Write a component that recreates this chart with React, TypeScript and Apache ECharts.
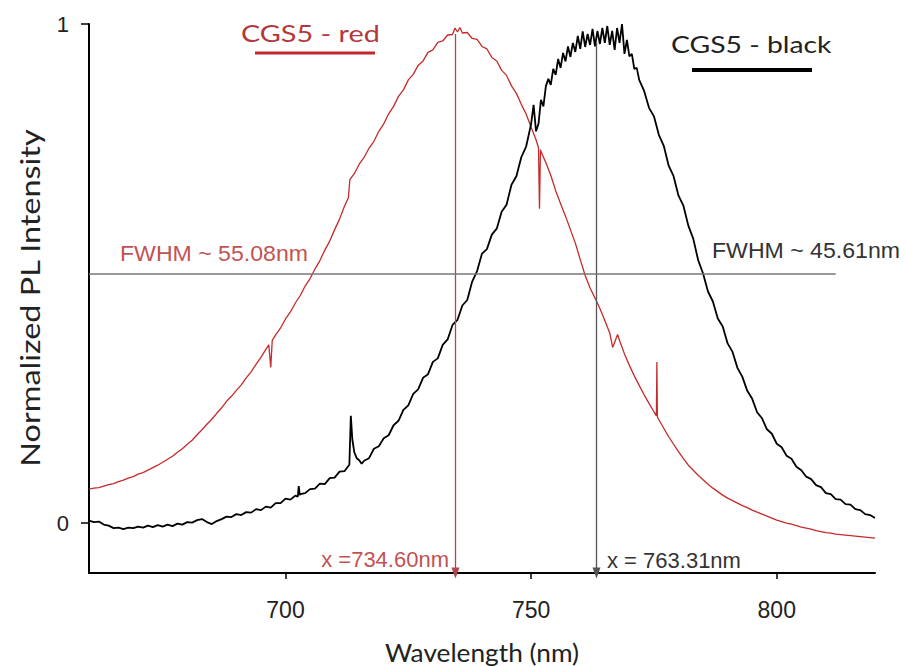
import React, { useEffect, useRef } from "react";
import * as echarts from "echarts";

// ---- data ----
const xTicks = [700, 750, 800];
const yTicks = [0, 1];
const redPeak = 734.6;
const blackPeak = 763.31;
const halfMax = 0.5;
const halfLineEnd = 812;

const redSpectrum: [number, number][] = [
  [660, 0.068], [661, 0.07], [662, 0.071], [663, 0.074], [664, 0.077], [665, 0.079], [666, 0.083], [667, 0.086],
  [668, 0.09], [669, 0.093], [670, 0.098], [671, 0.101], [672, 0.106], [673, 0.111], [674, 0.116], [675, 0.122],
  [676, 0.128], [677, 0.134], [678, 0.142], [679, 0.149], [680, 0.158], [681, 0.166], [682, 0.177], [683, 0.187],
  [684, 0.198], [685, 0.208], [686, 0.22], [687, 0.231], [688, 0.244], [689, 0.254], [690, 0.266], [691, 0.277],
  [692, 0.291], [693, 0.303], [694, 0.318], [695, 0.332], [696, 0.348], [696.6, 0.357], [697, 0.312], [697.3, 0.366],
  [698, 0.377], [699, 0.391], [700, 0.409], [701, 0.423], [702, 0.441], [703, 0.456], [704, 0.475], [705, 0.49],
  [706, 0.509], [707, 0.526], [708, 0.547], [709, 0.565], [710, 0.588], [711, 0.609], [712, 0.635], [712.8, 0.652],
  [713.1, 0.688], [714, 0.7], [715, 0.719], [716, 0.733], [717, 0.751], [718, 0.765], [719, 0.785], [720, 0.8],
  [721, 0.82], [722, 0.835], [723, 0.855], [724, 0.868], [725, 0.888], [726, 0.899], [727, 0.917], [728, 0.926],
  [729, 0.943], [730, 0.948], [731, 0.963], [732, 0.966], [733, 0.978], [734, 0.979], [734.5, 0.992], [735, 0.984],
  [735.5, 0.993], [736, 0.982], [737, 0.983], [738, 0.971], [739, 0.969], [740, 0.955], [741, 0.95], [742, 0.933],
  [743, 0.926], [744, 0.907], [745, 0.897], [746, 0.876], [747, 0.861], [748, 0.839], [749, 0.819], [750, 0.793],
  [751, 0.768], [751.5, 0.752], [751.7, 0.63], [751.9, 0.748], [752, 0.745], [753, 0.722], [754, 0.697], [755, 0.666],
  [756, 0.64], [757, 0.615], [758, 0.588], [759, 0.561], [760, 0.528], [761, 0.496], [762, 0.471], [763, 0.451],
  [764, 0.43], [765, 0.406], [766, 0.381], [766.6, 0.352], [767.6, 0.378], [768, 0.366], [769, 0.339], [770, 0.316],
  [771, 0.295], [772, 0.276], [773, 0.257], [774, 0.24], [775, 0.223], [775.5, 0.215], [775.6, 0.323], [775.7, 0.213],
  [776, 0.207], [777, 0.19], [778, 0.173], [779, 0.158], [780, 0.143], [781, 0.129], [782, 0.116], [783, 0.106],
  [784, 0.096], [785, 0.087], [786, 0.078], [787, 0.07], [788, 0.063], [789, 0.056], [790, 0.05], [791, 0.045],
  [792, 0.04], [793, 0.035], [794, 0.031], [795, 0.026], [796, 0.022], [797, 0.018], [798, 0.014], [799, 0.01],
  [800, 0.006], [801, 0.003], [802, 0.0], [803, -0.002], [804, -0.005], [805, -0.008], [806, -0.01], [807, -0.012],
  [808, -0.015], [809, -0.017], [810, -0.019], [811, -0.02], [812, -0.022], [813, -0.023], [814, -0.024], [815, -0.025],
  [816, -0.026], [817, -0.027], [818, -0.028], [819, -0.029], [820, -0.03],
];

const blackSpectrum: [number, number][] = [
  [660, 0.005], [661, 0.002], [662, 0.003], [663, -0.003], [664, -0.005], [665, -0.01], [666, -0.009], [667, -0.012],
  [668, -0.009], [669, -0.01], [670, -0.007], [671, -0.009], [672, -0.005], [673, -0.008], [674, -0.004], [675, -0.007],
  [676, -0.003], [677, -0.006], [678, -0.001], [679, -0.003], [680, 0.002], [681, 0.001], [682, 0.006], [683, 0.008],
  [684, 0.002], [685, -0.002], [686, 0.004], [687, 0.008], [688, 0.013], [689, 0.012], [690, 0.018], [691, 0.016],
  [692, 0.022], [693, 0.021], [694, 0.028], [695, 0.026], [696, 0.033], [697, 0.031], [698, 0.04], [699, 0.04],
  [700, 0.049], [701, 0.047], [702, 0.055], [702.5, 0.053], [702.7, 0.074], [702.9, 0.056], [703, 0.058], [704, 0.06],
  [705, 0.068], [706, 0.069], [707, 0.079], [708, 0.078], [709, 0.09], [710, 0.091], [711, 0.103], [712, 0.104],
  [713, 0.117], [713.3, 0.215], [713.6, 0.168], [714, 0.142], [714.5, 0.13], [715, 0.126], [715.5, 0.119], [716, 0.125],
  [717, 0.13], [718, 0.149], [719, 0.154], [720, 0.17], [721, 0.176], [722, 0.196], [723, 0.205], [724, 0.227],
  [725, 0.236], [726, 0.259], [727, 0.268], [728, 0.291], [729, 0.298], [730, 0.323], [731, 0.33], [732, 0.357],
  [733, 0.368], [734, 0.397], [735, 0.407], [736, 0.436], [737, 0.447], [738, 0.484], [739, 0.505], [740, 0.54],
  [741, 0.549], [742, 0.578], [743, 0.59], [744, 0.624], [745, 0.638], [746, 0.678], [747, 0.695], [748, 0.733],
  [749, 0.755], [750, 0.8], [750.5, 0.838], [751, 0.785], [751.5, 0.8], [752, 0.848], [752.5, 0.835], [753, 0.875],
  [753.5, 0.89], [754, 0.878], [754.5, 0.91], [755, 0.898], [755.5, 0.93], [756, 0.912], [756.5, 0.942], [757, 0.925],
  [757.5, 0.955], [758, 0.934], [758.5, 0.962], [759, 0.944], [759.5, 0.976], [760, 0.95], [760.5, 0.985], [761, 0.954],
  [761.5, 0.98], [762, 0.958], [762.5, 0.99], [763, 0.955], [763.5, 0.986], [764, 0.96], [764.5, 0.992], [765, 0.962],
  [765.5, 0.996], [766, 0.958], [766.5, 0.986], [767, 0.948], [767.5, 0.992], [768, 0.962], [768.5, 1.0], [769, 0.94],
  [769.5, 0.968], [770, 0.935], [770.5, 0.94], [771, 0.91], [771.5, 0.912], [772, 0.888], [773, 0.866], [774, 0.832],
  [775, 0.815], [776, 0.778], [777, 0.756], [778, 0.716], [779, 0.695], [780, 0.656], [781, 0.636], [782, 0.596],
  [783, 0.57], [784, 0.527], [785, 0.5], [786, 0.464], [787, 0.444], [788, 0.41], [789, 0.394], [790, 0.36],
  [791, 0.343], [792, 0.311], [793, 0.293], [794, 0.265], [795, 0.249], [796, 0.222], [797, 0.21], [798, 0.188],
  [799, 0.179], [800, 0.159], [801, 0.152], [802, 0.135], [803, 0.129], [804, 0.113], [805, 0.106], [806, 0.093],
  [807, 0.088], [808, 0.076], [809, 0.072], [810, 0.06], [811, 0.058], [812, 0.048], [813, 0.047], [814, 0.038],
  [815, 0.037], [816, 0.028], [817, 0.026], [818, 0.018], [819, 0.016], [820, 0.01],
];

const SANS = "Liberation Sans, Arial, sans-serif";
const HUMAN = "Lato, 'Open Sans', sans-serif";

export default function App() {
  const ref = useRef<HTMLDivElement>(null);

  useEffect(() => {
    if (!ref.current) return;
    const chart = echarts.init(ref.current, undefined, { renderer: "svg" });

    const text = (
      t: string,
      x: number,
      y: number,
      fill: string,
      fontSize: number,
      fontFamily: string,
      align: string,
      scaleX = 1,
      rotation = 0
    ) => ({
      type: "text",
      x,
      y,
      scaleX,
      rotation,
      silent: true,
      style: {
        text: t,
        fill,
        fontSize,
        fontFamily,
        align,
        textAlign: align,
        verticalAlign: "middle",
        textVerticalAlign: "middle",
      },
    });

    chart.setOption({
      animation: false,
      backgroundColor: "#ffffff",
      grid: { left: 89, right: 32, top: 24, bottom: 93, containLabel: false },
      xAxis: {
        type: "value",
        min: 660,
        max: 820,
        axisLine: { show: true, onZero: false, lineStyle: { color: "#000", width: 2 } },
        axisTick: { show: true, customValues: xTicks, length: 6, lineStyle: { color: "#000", width: 1.5 } },
        axisLabel: { customValues: xTicks, fontSize: 23, color: "#222", margin: 25, fontFamily: SANS },
        splitLine: { show: false },
      },
      yAxis: {
        type: "value",
        min: -0.1,
        max: 1,
        axisLine: { show: true, onZero: false, lineStyle: { color: "#000", width: 2 } },
        axisTick: { show: true, customValues: yTicks, length: 8, lineStyle: { color: "#000", width: 1.5 } },
        axisLabel: { customValues: yTicks, fontSize: 22, color: "#222", margin: 20, fontFamily: SANS },
        splitLine: { show: false },
      },
      series: [
        {
          name: "CGS5 - red",
          type: "line",
          data: redSpectrum,
          showSymbol: false,
          symbol: "none",
          lineStyle: { color: "#c62a2a", width: 1.3 },
          silent: true,
          z: 3,
          markLine: {
            silent: true,
            symbol: ["none", "triangle"],
            symbolSize: [8, 11],
            label: { show: false },
            lineStyle: { color: "#b0474a", width: 1.3, type: "solid" },
            data: [[{ coord: [redPeak, 0.98] }, { coord: [redPeak, -0.1] }]],
          },
        },
        {
          name: "CGS5 - black",
          type: "line",
          data: blackSpectrum,
          showSymbol: false,
          symbol: "none",
          lineStyle: { color: "#000", width: 1.8 },
          silent: true,
          z: 4,
          markLine: {
            silent: true,
            symbol: ["none", "triangle"],
            symbolSize: [8, 11],
            label: { show: false },
            lineStyle: { color: "#555", width: 1.3, type: "solid" },
            data: [
              [{ coord: [blackPeak, 0.965] }, { coord: [blackPeak, -0.1] }],
              [
                { coord: [660, halfMax], symbol: "none" },
                { coord: [halfLineEnd, halfMax], symbol: "none", lineStyle: { color: "#777", width: 1.5 } },
              ],
            ],
          },
        },
      ],
      graphic: [
        text("CGS5 - red", 241, 33, "#b3383c", 24, HUMAN, "left", 1.2),
        {
          type: "line",
          silent: true,
          shape: { x1: 255, y1: 53, x2: 375, y2: 53 },
          style: { stroke: "#c1272d", lineWidth: 3 },
        },
        text("CGS5 - black", 671, 44, "#222", 24, HUMAN, "left", 1.18),
        {
          type: "line",
          silent: true,
          shape: { x1: 692, y1: 70, x2: 812, y2: 70 },
          style: { stroke: "#000", lineWidth: 4 },
        },
        text("FWHM ~ 55.08nm", 120, 254, "#c25353", 22, SANS, "left", 1.05),
        text("FWHM ~ 45.61nm", 712, 251, "#333", 22, SANS, "left", 1.05),
        text("x =734.60nm", 449, 559, "#c25353", 22, SANS, "right", 1.0),
        text("x = 763.31nm", 607, 560, "#333", 22, SANS, "left", 1.0),
        text("Wavelength (nm)", 482, 652, "#222", 25, HUMAN, "center", 1.05),
        text("Normalized PL Intensity", 30, 298, "#222", 27, HUMAN, "center", 1.2, Math.PI / 2),
      ],
    });

    return () => chart.dispose();
  }, []);

  return (
    <div
      ref={ref}
      style={{ position: "fixed", left: 0, top: 0, width: 907, height: 666, background: "#fff" }}
    />
  );
}
